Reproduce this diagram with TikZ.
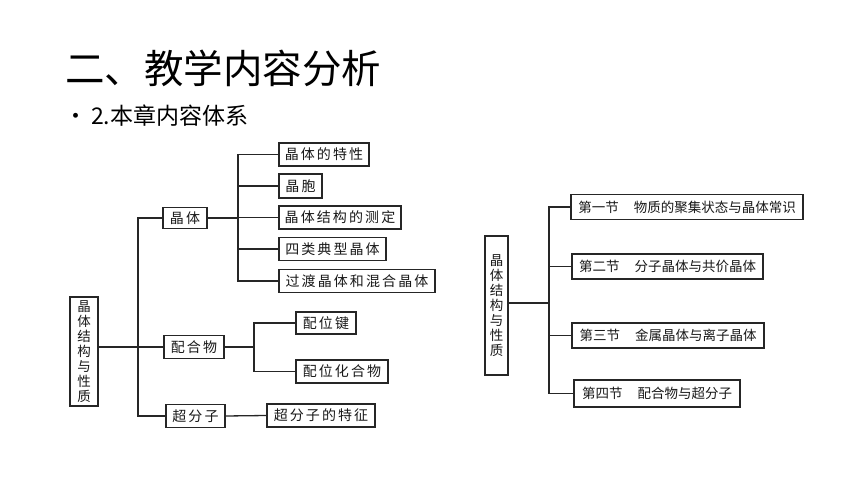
\documentclass[tikz,border=0pt]{standalone}
\usepackage{fontspec}
\newfontfamily\cjk{Noto Sans CJK SC}
\newfontfamily\cjksp[LetterSpace=15]{Noto Sans CJK SC}
\begin{document}
\begin{tikzpicture}[x=1pt,y=-1pt,
  box/.style={draw=black!85,line width=1.3pt,inner sep=0pt,font=\cjksp\fontsize{14}{16}\selectfont,text=black!90,minimum height=23},
  rbox/.style={draw=black!85,line width=1.3pt,inner sep=0pt,font=\cjk\fontsize{13.5}{16}\selectfont,text=black!90},
  vbox/.style={draw=black!85,line width=1.3pt,inner sep=0pt,font=\cjk\fontsize{13.5}{15}\selectfont,text=black!90,align=center},
  conn/.style={draw=black!85,line width=1.3pt}]
\path[fill=white] (0,0) rectangle (860,484);
\useasboundingbox (0,0) rectangle (860,484);
% titles
\node[anchor=west,font=\cjk\fontsize{39.5}{44}\selectfont,inner sep=0pt] (title) at (65,68) {二、教学内容分析};
\node[anchor=west,font=\cjk\fontsize{23}{26}\selectfont,inner sep=0pt] (sub) at (64,116) {•\hspace{4pt}2.本章内容体系};
% left tree
\node[vbox,minimum width=28,minimum height=109] (r) at (84,351.5) {\fontsize{13.5}{15.5}\selectfont 晶\\体\\结\\构\\与\\性\\质};
\node[box,minimum width=44,minimum height=21] (jt) at (185,218) {晶体};
\node[box,minimum width=60] (ph) at (194,347) {配合物};
\node[box,minimum width=59] (cf) at (195.5,416) {超分子};
\node[box,minimum width=90] (a1) at (324,154.5) {晶体的特性};
\node[box,minimum width=43,minimum height=24] (a2) at (300.5,186) {晶胞};
\node[box,minimum width=122] (a3) at (340,217.5) {晶体结构的测定};
\node[box,minimum width=107] (a4) at (332.5,249) {四类典型晶体};
\node[box,minimum width=156] (a5) at (357,281) {过渡晶体和混合晶体};
\node[box,minimum width=60,minimum height=22] (b1) at (326,323) {配位键};
\node[box,minimum width=92] (b2) at (342,371.5) {配位化合物};
\node[box,minimum width=108] (c1) at (321,415.5) {超分子的特征};
\coordinate (T) at (138,347);
\coordinate (S1) at (238,218);
\coordinate (S2) at (254,347);
\draw[conn] (r.east|-T) -- (T);
\draw[conn] (jt.west) -| (T);
\draw[conn] (cf.west) -| (T);
\draw[conn] (ph.west) -- (T);
\draw[conn] (jt.east) -- (S1);
\foreach \n in {a1,a2,a3,a4,a5} \draw[conn] (\n.west) -| (S1);
\draw[conn] (ph.east) -- (S2);
\draw[conn] (b1.west) -| (S2);
\draw[conn] (b2.west) -| (S2);
\draw[conn] (cf.east) -- (c1.west);
% right tree
\node[vbox,minimum width=23,minimum height=139] (rr) at (496.5,305.5) {\fontsize{13.5}{19.5}\selectfont 晶\\体\\结\\构\\与\\性\\质};
\node[rbox,minimum width=232,minimum height=25] (d1) at (687,207) {第一节\hspace{15pt}物质的聚集状态与晶体常识};
\node[rbox,minimum width=191,minimum height=25] (d2) at (667.5,266.5) {第二节\hspace{15pt}分子晶体与共价晶体};
\node[rbox,minimum width=192,minimum height=25] (d3) at (668,335.5) {第三节\hspace{15pt}金属晶体与离子晶体};
\node[rbox,minimum width=166,minimum height=27] (d4) at (657,393.5) {第四节\hspace{15pt}配合物与超分子};
\coordinate (R) at (549,303);
\draw[conn] (rr.east|-R) -- (R);
\foreach \n in {d1,d2,d3,d4} \draw[conn] (\n.west) -| (R);
\end{tikzpicture}
\end{document}
